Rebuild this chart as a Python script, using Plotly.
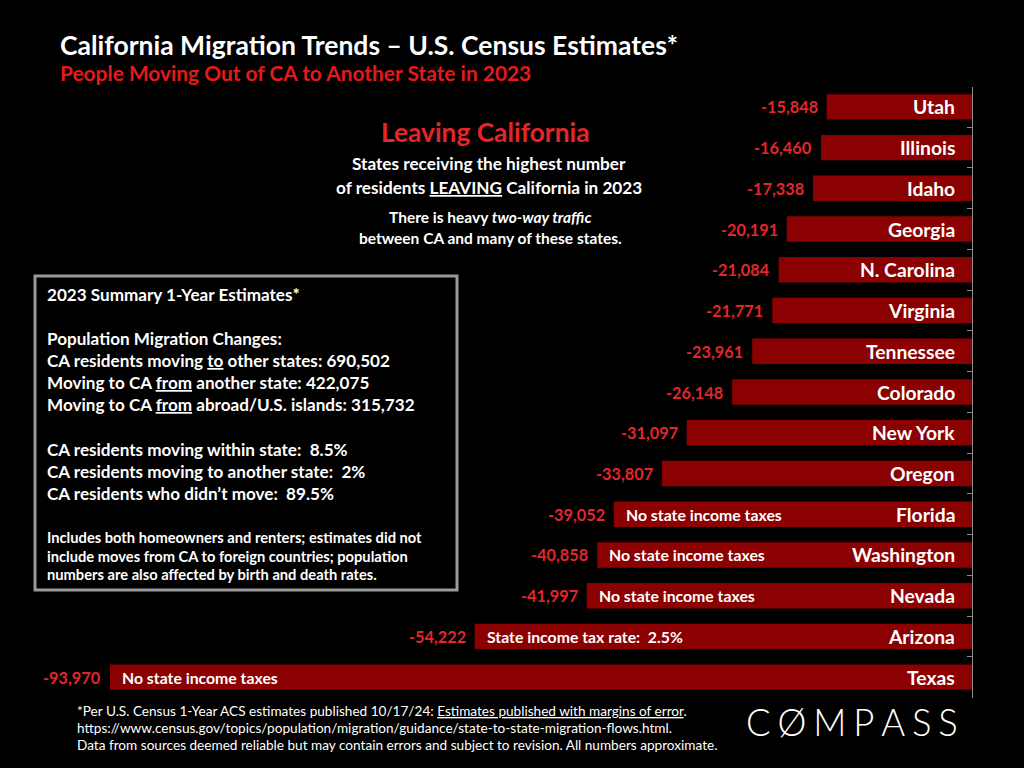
import plotly.graph_objects as go

# === data ===
states = [
    "Utah", "Illinois", "Idaho", "Georgia", "N. Carolina", "Virginia", "Tennessee",
    "Colorado", "New York", "Oregon", "Florida", "Washington", "Nevada", "Arizona", "Texas",
]
leaving = [
    -15848, -16460, -17338, -20191, -21084, -21771, -23961,
    -26148, -31097, -33807, -39052, -40858, -41997, -54222, -93970,
]
notes = [
    "", "", "", "", "", "", "",
    "", "", "", "No state income taxes", "No state income taxes",
    "No state income taxes", "State income tax rate:  2.5%", "No state income taxes",
]

summary_lines = [
    "Population Migration Changes:",
    "CA residents moving <u>to</u> other states: 690,502",
    "Moving to CA <u>from</u> another state: 422,075",
    "Moving to CA <u>from</u> abroad/U.S. islands: 315,732",
    "",
    "CA residents moving within state:  8.5%",
    "CA residents moving to another state:  2%",
    "CA residents who didn\u2019t move:  89.5%",
]
caveat_lines = [
    "Includes both homeowners and renters; estimates did not",
    "include moves from CA to foreign countries; population",
    "numbers are also affected by birth and death rates.",
]
footer_lines = [
    "*Per U.S. Census 1-Year ACS estimates published 10/17/24: <u>Estimates published with margins of error</u>.",
    "https://www.census.gov/topics/population/migration/guidance/state-to-state-migration-flows.html.",
    "Data from sources deemed reliable but may contain errors and subject to revision. All numbers approximate.",
]

W, H = 1024, 768
FONT = "Lato, 'Open Sans', sans-serif"
BAR_RED = "#8b0000"
TEXT_RED = "#e3262b"


def px(x):
    return x / W


def py(y):
    return 1 - y / H


# plot area in pixels
x_left, x_zero = 40, 972
y_top, y_bot = 86.5, 697.5
texas_left = 110
x_min = min(leaving) * (x_zero - x_left) / (x_zero - texas_left)

fig = go.Figure()
fig.add_trace(
    go.Bar(
        x=leaving,
        y=states,
        orientation="h",
        marker=dict(color=BAR_RED, line=dict(width=0)),
        hoverinfo="skip",
    )
)

annotations = []
for st, v, note in zip(states, leaving, notes):
    annotations.append(dict(
        x=v, y=st, xref="x", yref="y", text=f"<b>{v:,}</b>",
        xanchor="right", yanchor="middle", xshift=-7, showarrow=False,
        font=dict(family=FONT, size=16.3, color=TEXT_RED),
    ))
    annotations.append(dict(
        x=0, y=st, xref="x", yref="y", text=f"<b>{st}</b>",
        xanchor="right", yanchor="middle", xshift=-15, showarrow=False,
        font=dict(family=FONT, size=19.3, color="white"),
    ))
    if note:
        annotations.append(dict(
            x=v, y=st, xref="x", yref="y", text=f"<b>{note}</b>",
            xanchor="left", yanchor="middle", xshift=10, showarrow=False,
            font=dict(family=FONT, size=15.8, color="white"),
        ))


def text_at(x, y, text, size, color="white", anchor="left", family=FONT, **kw):
    annotations.append(dict(
        x=px(x), y=py(y), xref="paper", yref="paper", text=text,
        xanchor=anchor, yanchor="middle", showarrow=False,
        font=dict(family=family, size=size, color=color, **kw),
    ))


# titles
text_at(58, 45, "<b>California Migration Trends \u2013 U.S. Census Estimates*</b>", 26.5)
text_at(58, 72, "<b>People Moving Out of CA to Another State in 2023</b>", 20.9, color="#e51a1a")

# centre block
text_at(485, 132, "<b>Leaving California</b>", 26.3, color=TEXT_RED, anchor="center")
text_at(489, 164, "<b>States receiving the highest number</b>", 17.2, anchor="center")
text_at(489, 187, "<b>of residents <u>LEAVING</u> California in 2023</b>", 17.2, anchor="center")
text_at(490, 217, "<b>There is heavy <i>two-way traffic</i></b>", 15.5, anchor="center")
text_at(490, 238, "<b>between CA and many of these states.</b>", 15.5, anchor="center")

# summary box
text_at(45, 294, "<b>2023 Summary 1-Year Estimates*</b>", 17.1)
for i, line in enumerate(summary_lines):
    if line:
        text_at(45, 338 + i * 22.2, f"<b>{line}</b>", 17.1)
for i, line in enumerate(caveat_lines):
    text_at(45, 537 + i * 18.5, f"<b>{line}</b>", 14.7)

# footer
for i, line in enumerate(footer_lines):
    text_at(75, 711 + i * 17, line, 13.6)

# logo
text_at(852, 722, "C\u2009\u200a\u00d8\u2009\u200aM\u2009\u200aP\u2009\u200aA\u2009\u200aS\u2009\u200aS",
        36.5, anchor="center", weight=300)

fig.update_layout(
    width=W,
    height=H,
    margin=dict(l=0, r=0, t=0, b=0),
    paper_bgcolor="black",
    plot_bgcolor="black",
    showlegend=False,
    bargap=0.376,
    annotations=annotations,
    shapes=[
        dict(type="rect", xref="paper", yref="paper",
             x0=px(35), x1=px(457), y0=py(276), y1=py(590),
             line=dict(color="#9a9a9a", width=3), fillcolor="rgba(0,0,0,0)"),
    ],
    xaxis=dict(
        domain=[px(x_left), px(x_zero)],
        range=[x_min, 0],
        visible=False,
        fixedrange=True,
    ),
    yaxis=dict(
        domain=[py(y_bot), py(y_top)],
        autorange="reversed",
        side="right",
        showline=True,
        linecolor="#8c8c8c",
        linewidth=1,
        ticks="inside",
        tickson="boundaries",
        ticklen=5,
        tickcolor="#8c8c8c",
        showticklabels=False,
        showgrid=False,
        zeroline=False,
    ),
)

fig.write_html(
    "out.html",
    config={"displayModeBar": False},
    post_script="document.body.style.margin='0';document.body.style.background='black';",
)
